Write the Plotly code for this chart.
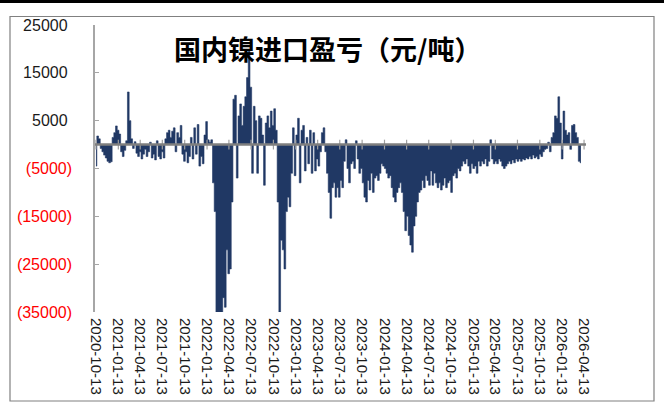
import pandas as pd
import plotly.graph_objects as go

# Weekly readings of the domestic nickel import profit/loss (yuan/ton), starting 2020-10-13
start_date = "2020-10-13"
values = [
    -4500, 1800, 1200, -800, -1500, -2200, -2800, -3500, -3800, -3600,
    1500, 2500, 3900, 3000, 2200, -1500, -2500, -1200, 800, 11000,
    5000, 1200, -800, 600, -1800, -2500, -1500, -3000, -2000, -1000,
    -2500, -1500, 500, -2800, -2000, -3200, 800, -2500, -3000, -1500,
    -2800, 1200, 2500, 3000, 1500, 2800, 3500, -1500, 2500, 1500,
    4000, -2000, -3500, -1500, -3800, -2500, 1500, -3000, 3500, -2000,
    4200, -4500, -2500, -4000, 2000, 4800, 1000, 500, 1000, -8000,
    -14000, -35000, -35000, -35000, -35000, -32000, -34000, -22000, -27000, -26000,
    -12000, 9500, 10300, -7000, 6000, 8500, 4000, 8000, 10000, 14000,
    19500, 12000, -6000, 8000, 5000, -6000, 6000, 5500, 2000, -8500,
    4500, 6000, 3500, 7000, 4000, 7500, 3000, -12000, -35000, -20000,
    -22000, -26000, -14000, -11000, -13000, -6000, 3500, -6500, 2000, 5500,
    -8000, 3000, 4000, -5500, 1500, -4000, 3000, -6000, 2500, -5500,
    -3000, -4500, -1500, 2500, 3500, -1500, -6000, -10000, -15400, -9000,
    -8000, -11000, -9000, -11000, -7500, -9000, -3500, 1000, -5000, -8000,
    -4000, -3500, -5000, 800, -3000, -6000, -5000, -8000, -11000, -12000,
    -7500, -9500, -6000, -10000, -7000, -6500, -7500, -6000, -4000, -4500,
    -5000, -6000, -7000, -6500, -9000, -11000, -12000, -10000, -9000, -8000,
    -10000, -14000, -18000, -15000, -19000, -21000, -22500, -17000, -15000, -12000,
    -10000, -9500, -7500, -9000, -6500, -7500, -8500, -5500, -8500, -6000,
    -8000, -9000, -8000, -9500, -8500, -7000, -9000, -8000, -7500, -10000,
    -6500, -6000, -7000, -5000, -5500, -4500, -3500, -4000, -3000, -4500,
    -6000, -4000, -5000, -4500, -6000, -3500, -4500, -3500, -4000, -3000,
    -4500, -3500, 1000, -3000, -4000, -3500, -4000, -3000, -3500, -4500,
    -5000, -4500, -4000, -3500, -4000, -3200, -3800, -3000, -3500, -3000,
    -3500, -3000, -3200, -2800, -3000, -2500, -3000, -2200, -2800, -2500,
    -3000, -2000, -2500, -1500, -1000, -800, 500, -1500, 1500, 2500,
    6000, 5500, 10000, 4500, -3000, 7000, 3000, 2000, 2500, -1000,
    4000, 4200, 2500, 1500, -3500, -3800,
]

tick_dates = [
    "2020-10-13", "2021-01-13", "2021-04-13", "2021-07-13", "2021-10-13",
    "2022-01-13", "2022-04-13", "2022-07-13", "2022-10-13", "2023-01-13",
    "2023-04-13", "2023-07-13", "2023-10-13", "2024-01-13", "2024-04-13",
    "2024-07-13", "2024-10-13", "2025-01-13", "2025-04-13", "2025-07-13",
    "2025-10-13", "2026-01-13", "2026-04-13",
]
y_ticks = [25000, 15000, 5000, -5000, -15000, -25000, -35000]
y_tick_text = ["25000", "15000", "5000", "(5000)", "(15000)", "(25000)", "(35000)"]
title_text = "国内镍进口盈亏（元/吨）"

dates = pd.date_range(start_date, periods=len(values), freq="7D")

ticktext_y = []
for v, t in zip(y_ticks, y_tick_text):
    if v < 0:
        ticktext_y.append(f"<span style='color:#FF0000'>{t}</span>")
    else:
        ticktext_y.append(t + "\u00a0")

fig = go.Figure()
# dense weekly bars drawn as a stepped, filled column series (no sub-pixel gaps)
fig.add_trace(go.Scatter(
    x=dates, y=values,
    mode="lines", line=dict(shape="hvh", width=0.6, color="#203864"),
    fill="tozeroy", fillcolor="#203864",
    hoverinfo="x+y",
))
# small tick marks sitting on the zero line
fig.add_trace(go.Scatter(
    x=pd.to_datetime(tick_dates), y=[0] * len(tick_dates),
    mode="markers",
    marker=dict(symbol="line-ns", size=7, line=dict(width=1.2, color="#A0A0A0")),
    hoverinfo="skip",
))

fig.update_layout(
    width=664, height=406,
    margin=dict(l=95, r=78, t=25, b=94),
    paper_bgcolor="white", plot_bgcolor="white",
    showlegend=False,
    font=dict(family="Liberation Sans, Arial, sans-serif", color="#1a1a1a"),
    xaxis=dict(
        type="date",
        range=["2020-10-09", "2026-04-21"],
        tickvals=pd.to_datetime(tick_dates),
        ticktext=tick_dates,
        tickangle=90,
        tickfont=dict(size=15, color="#1a1a1a"),
        showgrid=False, zeroline=False, showline=False, ticks="",
        ticklabelstandoff=5,
    ),
    yaxis=dict(
        range=[-35000, 25000],
        tickvals=y_ticks,
        ticktext=ticktext_y,
        tickfont=dict(size=16, color="#1a1a1a"),
        showgrid=False, zeroline=False,
        showline=True, linecolor="#A6A6A6", linewidth=1.5,
        ticks="inside", ticklen=4, tickcolor="#A6A6A6", tickwidth=1.2,
        ticklabelstandoff=18,
    ),
    shapes=[
        dict(type="line", xref="x", yref="y", x0="2020-10-09", x1="2026-04-21",
             y0=0, y1=0, line=dict(color="#7F7F7F", width=2.5), layer="above"),
        dict(type="rect", xref="paper", yref="paper",
             x0=(10 - 95) / 491, x1=(654 - 95) / 491,
             y0=(312 - 401) / 287, y1=(312 - 16.5) / 287,
             line=dict(color="#808080", width=1.2), fillcolor="rgba(0,0,0,0)"),
        dict(type="rect", xref="paper", yref="paper",
             x0=-0.3, x1=1.3,
             y0=(312 - 3) / 287, y1=(312 + 2) / 287 + 1,
             line=dict(width=0), fillcolor="black"),
    ],
    annotations=[
        dict(text="<b>" + title_text + "</b>", xref="paper", yref="paper",
             x=(327 - 95) / 491, y=(312 - 48) / 287, xanchor="center", yanchor="middle",
             showarrow=False,
             font=dict(family="Noto Sans CJK SC", size=27, color="black")),
    ],
)

fig.write_html("out.html", config={"displayModeBar": False},
               post_script="document.body.style.margin='0';")
